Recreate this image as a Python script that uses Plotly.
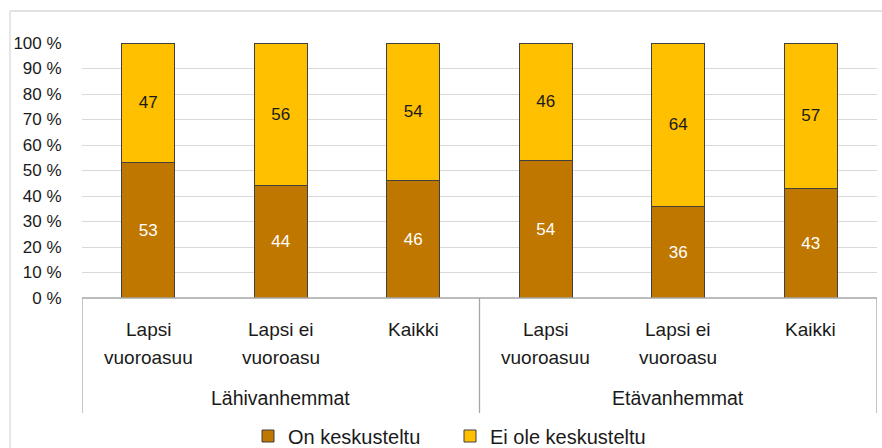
import plotly.graph_objects as go

groups = ["Lähivanhemmat", "Etävanhemmat"]
categories = ["Lapsi<br>vuoroasuu", "Lapsi ei<br>vuoroasu", "Kaikki",
              "Lapsi<br>vuoroasuu", "Lapsi ei<br>vuoroasu", "Kaikki"]
on_keskusteltu = [53, 44, 46, 54, 36, 43]
ei_ole_keskusteltu = [47, 56, 54, 46, 64, 57]
series_names = ["On keskusteltu", "Ei ole keskusteltu"]

W, H = 882, 448
L, R, T, B = 82, 5, 43, 150
PW, PH = W - L - R, H - T - B

def px(xp):
    return (xp - L) / PW

def py(yp):
    return (T + PH - yp) / PH

FONT = "Liberation Sans, Arial, sans-serif"
TXT = "#1a1a1a"
xs = list(range(len(categories)))

fig = go.Figure()
fig.add_trace(go.Bar(
    x=xs, y=on_keskusteltu, name=series_names[0],
    marker=dict(color="#C07700", line=dict(color="#404040", width=1)),
    text=[str(v) for v in on_keskusteltu], textposition="inside",
    insidetextanchor="middle", textangle=0,
    textfont=dict(color="white", size=17, family=FONT),
    width=0.4,
))
fig.add_trace(go.Bar(
    x=xs, y=ei_ole_keskusteltu, name=series_names[1],
    marker=dict(color="#FFC000", line=dict(color="#404040", width=1)),
    text=[str(v) for v in ei_ole_keskusteltu], textposition="inside",
    insidetextanchor="middle", textangle=0,
    textfont=dict(color=TXT, size=17, family=FONT),
    width=0.4,
))

annotations = []
for i, c in enumerate(categories):
    lines = c.split("<br>")
    for j, ln in enumerate(lines):
        annotations.append(dict(
            x=i, xref="x", y=py(329 + 28 * j), yref="paper",
            text=ln, showarrow=False, xanchor="center", yanchor="middle",
            font=dict(size=19, family=FONT, color=TXT),
        ))
for g, gi in enumerate(groups):
    annotations.append(dict(
        x=1 + 3 * g, xref="x", y=py(398), yref="paper",
        text=gi, showarrow=False, xanchor="center", yanchor="middle",
        font=dict(size=19.5, family=FONT, color=TXT),
    ))

shapes = []
axis_col = "#A6A6A6"
shapes.append(dict(type="line", xref="paper", yref="paper",
                   x0=0, x1=1, y0=0, y1=0, line=dict(color=axis_col, width=1.3)))
for xv in [-0.5, 2.5, 5.5]:
    shapes.append(dict(type="line", xref="x", yref="paper",
                       x0=xv, x1=xv, y0=0, y1=py(413),
                       line=dict(color=axis_col, width=1.3)))
shapes.append(dict(type="line", xref="paper", yref="paper",
                   x0=px(10), x1=px(10), y0=py(11), y1=py(452),
                   line=dict(color="#D9D9D9", width=1.3)))
shapes.append(dict(type="line", xref="paper", yref="paper",
                   x0=px(10), x1=px(886), y0=py(11), y1=py(11),
                   line=dict(color="#D9D9D9", width=1.3)))

fig.update_layout(
    width=W, height=H,
    margin=dict(l=L, r=R, t=T, b=B, autoexpand=False),
    barmode="stack",
    plot_bgcolor="white", paper_bgcolor="white",
    font=dict(family=FONT, size=17, color=TXT),
    showlegend=True,
    legend=dict(orientation="h", x=248 / W, xanchor="left", xref="container",
                y=1 - 436 / H, yanchor="middle", yref="container",
                font=dict(size=20, family=FONT, color=TXT),
                itemwidth=30, entrywidth=157, entrywidthmode="pixels",
                tracegroupgap=0, traceorder="normal",
                bgcolor="rgba(0,0,0,0)"),
    annotations=annotations,
    shapes=shapes,
    uniformtext=dict(minsize=17, mode="show"),
)
fig.update_xaxes(range=[-0.5, 5.5], showticklabels=False, showgrid=False,
                 zeroline=False, showline=False, fixedrange=True)
fig.update_yaxes(range=[0, 100], dtick=10, ticksuffix=" %",
                 showgrid=True, gridcolor="#D9D9D9", gridwidth=1.3,
                 zeroline=False, showline=False, automargin=False,
                 ticks="outside", ticklen=16, tickcolor="rgba(0,0,0,0)",
                 tickfont=dict(size=17, family=FONT, color=TXT))

fig.write_html("out.html", config={"displayModeBar": False},
               post_script="document.body.style.margin='0';")
